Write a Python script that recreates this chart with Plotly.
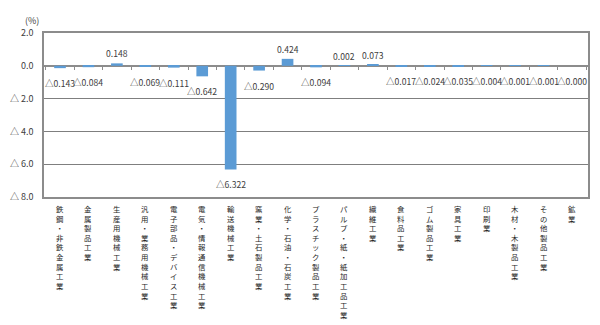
import plotly.graph_objects as go

categories = [
    "鉄鋼・非鉄金属工業", "金属製品工業", "生産用機械工業", "汎用・業務用機械工業",
    "電子部品・デバイス工業", "電気・情報通信機械工業", "輸送機械工業", "窯業・土石製品工業",
    "化学・石油・石炭工業", "プラスチック製品工業", "パルプ・紙・紙加工品工業", "繊維工業",
    "食料品工業", "ゴム製品工業", "家具工業", "印刷業", "木材・木製品工業", "その他製品工業", "鉱業",
]
values = [
    -0.143, -0.084, 0.148, -0.069, -0.111, -0.642, -6.322, -0.290, 0.424, -0.094,
    0.002, 0.073, -0.017, -0.024, -0.035, -0.004, -0.001, -0.001, -0.0003,
]
ytick_vals = [2, 0, -2, -4, -6, -8]
ytick_text = ["2.0", "0.0", "△ 2.0", "△ 4.0", "△ 6.0", "△ 8.0"]

labels = [("△" + f"{abs(v):.3f}") if v < 0 else f"{v:.3f}" for v in values]

FONT = "Noto Sans CJK JP"

fig = go.Figure()
fig.add_trace(go.Bar(
    x=categories, y=values, marker_color="#5B9BD5", marker_line_width=0,
    showlegend=False, hoverinfo="skip",
))
# invisible trace on the axis drawn along the zero line (category ticks)
fig.add_trace(go.Scatter(x=categories, y=[0] * len(categories), xaxis="x2", mode="lines",
                         line=dict(width=0), opacity=0, showlegend=False, hoverinfo="skip"))

annotations = []
for cat, v, lab in zip(categories, values, labels):
    neg = v < 0
    annotations.append(dict(
        x=cat, xref="x", y=v, yref="y", xanchor="center",
        yanchor="top" if neg else "bottom", yshift=-8 if neg else 3,
        text=lab, showarrow=False, borderpad=0,
        font=dict(family=FONT, size=8.6, color="#404040"),
    ))
    annotations.append(dict(
        x=cat, xref="x", y=0, yref="paper", yanchor="top", xanchor="center",
        yshift=-4, text="<br>".join(cat), showarrow=False,
        font=dict(family=FONT, size=7.4, color="#262626"),
    ))
annotations.append(dict(x=0, xref="paper", y=1, yref="paper", xanchor="right", yanchor="bottom",
                        xshift=-4, yshift=5, text="(%)", showarrow=False, borderpad=0,
                        font=dict(family=FONT, size=9, color="#404040")))

fig.update_layout(
    width=600, height=325, margin=dict(l=36, r=10, t=33, b=128),
    paper_bgcolor="white", plot_bgcolor="white",
    bargap=0.59,
    font=dict(family=FONT, size=9, color="#404040"),
    xaxis=dict(type="category", showticklabels=False, showgrid=False, ticks="",
               showline=True, linecolor="#8c8c8c", linewidth=1.5, mirror=True),
    xaxis2=dict(type="category", overlaying="x", anchor="free", position=0.8, matches="x",
                showticklabels=False, showgrid=False, showline=False,
                ticks="outside", tickson="boundaries", ticklen=3, tickcolor="#8c8c8c"),
    yaxis=dict(range=[-8, 2], tickvals=ytick_vals, ticktext=ytick_text,
               showgrid=True, gridcolor="#7f7f7f", gridwidth=1,
               zeroline=True, zerolinecolor="#8c8c8c", zerolinewidth=1.5,
               showline=True, linecolor="#8c8c8c", linewidth=1.5, mirror=True,
               ticks="", ticklabelstandoff=7, tickfont=dict(family=FONT, size=9, color="#404040")),
    annotations=annotations,
)

fig.write_html("out.html")
